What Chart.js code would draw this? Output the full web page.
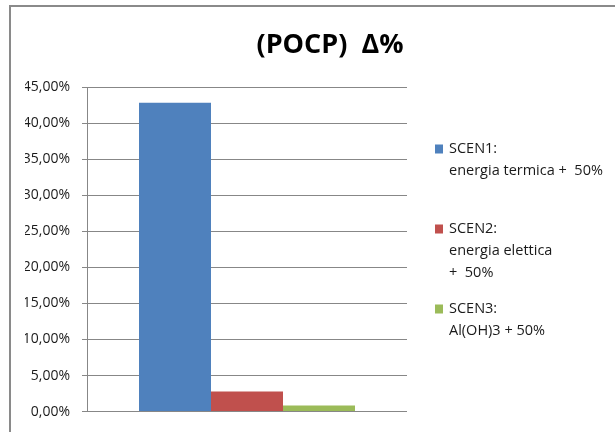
<!DOCTYPE html>
<html>
<head>
<meta charset="utf-8">
<script src="https://cdn.jsdelivr.net/npm/chart.js@4/dist/chart.umd.min.js"></script>
<style>
  html, body { margin: 0; padding: 0; background: #fff; overflow: hidden; }
  #wrap { width: 615px; height: 432px; position: relative; overflow: hidden; }
  canvas { display: block; }
</style>
</head>
<body>
<div id="wrap"><canvas id="c" width="615" height="432"></canvas></div>
<script>
// POCP variation per scenario (%)
const categories = [''];
const chartTitle = '(POCP)  \u0394%';
const seriesNames = ['SCEN1: energia termica +  50%', 'SCEN2: energia elettica + 50%', 'SCEN3: Al(OH)3 + 50%'];
const legendLines = [
  ['SCEN1:', 'energia termica +  50%'],
  ['SCEN2:', 'energia elettica', '+  50%'],
  ['SCEN3:', 'Al(OH)3 + 50%']
];
const scen1 = [42.8];
const scen2 = [2.8];
const scen3 = [0.85];
const seriesValues = [scen1, scen2, scen3];
const seriesColors = ['#4F81BD', '#C0504D', '#9BBB59'];
const yTicks = { min: 0, max: 45, step: 5 };

const FONT = '"Open Sans", sans-serif';
const GRID = '#878787';

// outer frame (top and left edges) and the heading
const framePlugin = {
  id: 'frame',
  beforeDraw(chart) {
    const ctx = chart.ctx;
    ctx.save();
    ctx.fillStyle = '#8a8a8a';
    ctx.fillRect(9, 5, 606, 2);
    ctx.fillRect(9, 5, 2, 427);
    ctx.fillStyle = '#000';
    ctx.font = 'bold 27px ' + FONT;
    ctx.textAlign = 'center';
    ctx.textBaseline = 'alphabetic';
    ctx.fillText(chartTitle, 330, 53);
    ctx.restore();
  }
};

// legend on the right, multi-line entries
const sideLegend = {
  id: 'sideLegend',
  afterDraw(chart) {
    const ctx = chart.ctx;
    ctx.save();
    ctx.font = '14.5px ' + FONT;
    ctx.textBaseline = 'middle';
    ctx.textAlign = 'left';
    const x0 = 435, startY = 149, groupStep = 80, lineStep = 22;
    legendLines.forEach((lines, i) => {
      const y = startY + i * groupStep;
      ctx.fillStyle = seriesColors[i];
      ctx.fillRect(x0, y - 4.5, 8, 9);
      ctx.fillStyle = '#1a1a1a';
      lines.forEach((t, j) => ctx.fillText(t, x0 + 14, y + j * lineStep));
    });
    ctx.restore();
  }
};

new Chart(document.getElementById('c'), {
  type: 'bar',
  data: {
    labels: categories,
    datasets: seriesValues.map((vals, i) => ({
      label: seriesNames[i],
      data: vals,
      backgroundColor: seriesColors[i],
      borderWidth: 0,
      categoryPercentage: 0.675,
      barPercentage: 1.0
    }))
  },
  options: {
    responsive: false,
    animation: false,
    layout: { padding: { left: 25, right: 208, top: 87, bottom: 17 } },
    plugins: {
      legend: { display: false },
      tooltip: { enabled: false },
      title: { display: false }
    },
    scales: {
      x: { display: false },
      y: {
        min: yTicks.min,
        max: yTicks.max,
        afterFit(scale) { scale.width = 62; },
        ticks: {
          stepSize: yTicks.step,
          padding: 12,
          color: '#1a1a1a',
          font: { family: FONT, size: 14 },
          callback: v => v.toFixed(2).replace('.', ',') + '%'
        },
        grid: { color: GRID, lineWidth: 1, tickLength: 5, drawTicks: true },
        border: { display: true, color: GRID, width: 1 }
      }
    }
  },
  plugins: [framePlugin, sideLegend]
});
</script>
</body>
</html>
